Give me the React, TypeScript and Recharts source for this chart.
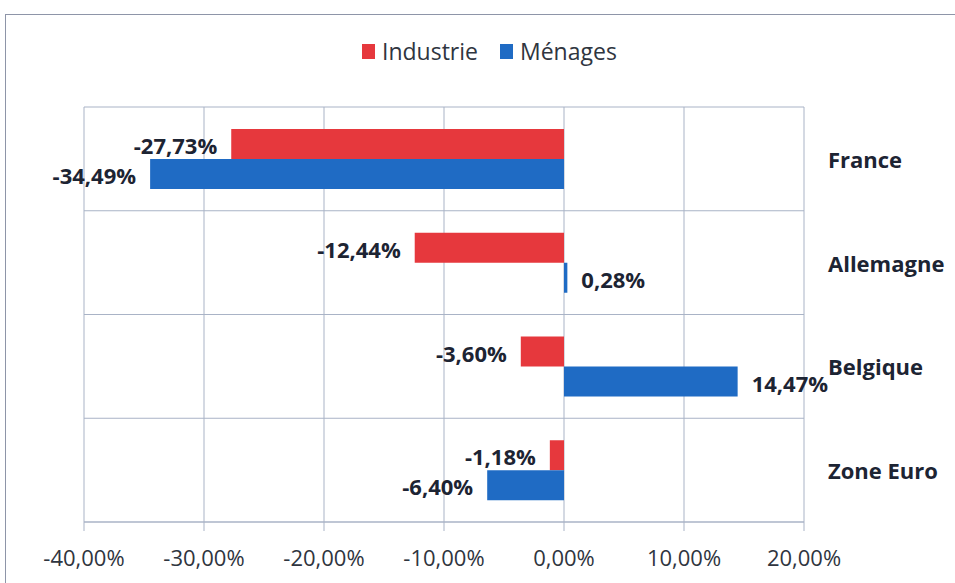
import React from "react";
import {
  BarChart,
  Bar,
  XAxis,
  YAxis,
  CartesianGrid,
  LabelList,
} from "recharts";

const countries = ["France", "Allemagne", "Belgique", "Zone Euro"];
const industrie = [-27.73, -12.44, -3.6, -1.18];
const menages = [-34.49, 0.28, 14.47, -6.4];
const xTicks = [-40, -30, -20, -10, 0, 10, 20];

const RED = "#e6383d";
const BLUE = "#1f6bc4";
const FONT = "'Open Sans', 'Liberation Sans', sans-serif";

const data = countries.map((name, i) => ({
  name,
  industrie: industrie[i],
  menages: menages[i],
}));

const fmt = (v: number) => v.toFixed(2).replace(".", ",") + "%";

// étiquette à l'extrémité de la barre, à gauche si négatif
const BarLabel = (props: any) => {
  const { x, y, width, height, value } = props;
  const left = Math.min(x, x + width);
  const right = Math.max(x, x + width);
  const neg = value < 0;
  return (
    <text
      x={neg ? left - 14 : right + 14}
      y={y + height / 2 + 1}
      textAnchor={neg ? "end" : "start"}
      dominantBaseline="central"
      fontFamily={FONT}
      fontSize={22}
      fontWeight={700}
      fill="#1d2433"
    >
      {fmt(value)}
    </text>
  );
};

const CountryTick = (props: any) => {
  const { y, payload } = props;
  return (
    <text
      x={828}
      y={y}
      dominantBaseline="central"
      fontFamily={FONT}
      fontSize={22}
      fontWeight={700}
      fill="#1d2433"
    >
      {payload.value}
    </text>
  );
};

const LegendItem = ({ color, label }: { color: string; label: string }) => (
  <span style={{ display: "inline-flex", alignItems: "center", marginRight: 22 }}>
    <span style={{ width: 13, height: 15, background: color, marginRight: 7 }} />
    <span>{label}</span>
  </span>
);

export default function App() {
  return (
    <div style={{ position: "fixed", left: 0, top: 0, width: 955, height: 583, background: "#fff", overflow: "hidden" }}>
      <div
        style={{
          position: "absolute",
          left: 5,
          top: 14,
          width: 1000,
          height: 700,
          border: "1.5px solid #8e95a8",
        }}
      />
      <div
        style={{
          position: "absolute",
          top: 35,
          left: 362,
          fontFamily: FONT,
          fontSize: 23,
          color: "#2f3540",
          display: "flex",
          whiteSpace: "nowrap",
        }}
      >
        <LegendItem color={RED} label="Industrie" />
        <LegendItem color={BLUE} label="Ménages" />
      </div>
      <div style={{ position: "absolute", left: 0, top: 0 }}>
        <BarChart
          width={955}
          height={583}
          data={data}
          layout="vertical"
          margin={{ top: 107, right: 11, bottom: 21, left: 84 }}
          barGap={0}
          barSize={30}
        >
          <CartesianGrid
            stroke="#a9b3c6"
            strokeWidth={1}
            horizontalCoordinatesGenerator={({ offset }: any) =>
              countries.map((_, i) => offset.top + (i * offset.height) / countries.length).concat(offset.top + offset.height)
            }
          />
          <XAxis
            type="number"
            domain={[-40, 20]}
            ticks={xTicks}
            tickFormatter={fmt}
            height={40}
            stroke="#a9b3c6"
            tickSize={9}
            tickMargin={19}
            tick={{ fontFamily: FONT, fontSize: 22, fill: "#2f3540" }}
          />
          <YAxis
            type="category"
            dataKey="name"
            orientation="right"
            width={140}
            axisLine={false}
            tickLine={false}
            tick={<CountryTick />}
          />
          <Bar dataKey="industrie" fill={RED} isAnimationActive={false}>
            <LabelList dataKey="industrie" content={<BarLabel />} />
          </Bar>
          <Bar dataKey="menages" fill={BLUE} isAnimationActive={false}>
            <LabelList dataKey="menages" content={<BarLabel />} />
          </Bar>
        </BarChart>
      </div>
    </div>
  );
}
